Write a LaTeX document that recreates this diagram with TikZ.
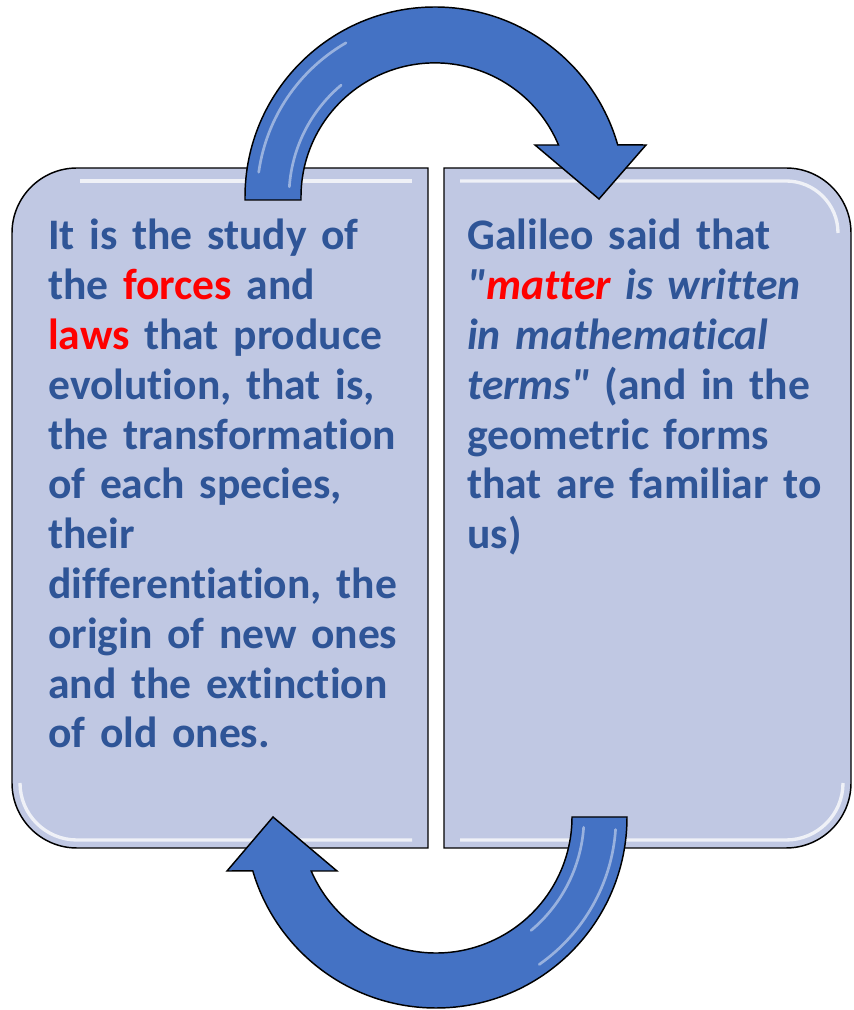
\documentclass[tikz,border=0pt]{standalone}
\usepackage{fontspec}
\setmainfont{Carlito}[Ligatures={NoCommon,NoContextual}]
\usetikzlibrary{positioning}
\definecolor{boxfill}{RGB}{192,200,227}
\definecolor{arrowblue}{RGB}{68,114,196}
\definecolor{textblue}{RGB}{47,85,151}
\definecolor{hired}{RGB}{255,0,0}
\tikzset{panel/.style={fill=boxfill,draw=black,line width=1.1pt},
bendarrow/.style={fill=arrowblue,draw=black,line width=1.1pt,line join=miter},
paneltext/.style={anchor=base west,text width=300pt,align=left,inner sep=0pt,font=\fontsize{32.7}{37.35}\selectfont\bfseries,text=textblue},
sheen/.style={draw=white,opacity=.75,line width=2.5pt},
gloss/.style={draw=white,opacity=.45,line width=2pt,line cap=round}}
\newcommand{\hi}[1]{\textcolor{hired}{#1}}
\begin{document}
\begin{tikzpicture}[x=0.75pt,y=0.75pt]
\useasboundingbox (0,0) rectangle (853,1010);
\draw[panel] (428,162) -- (428,842) -- (77,842) arc[start angle=90,end angle=180,radius=65] -- (12,227) arc[start angle=180,end angle=270,radius=65] -- cycle;
\draw[panel] (444,162) -- (444,842) -- (786,842) arc[start angle=90,end angle=0,radius=65] -- (851,227) arc[start angle=0,end angle=-90,radius=65] -- cycle;
\draw[sheen] (80,829) -- (412,829);
\draw[sheen] (20,227) arc[start angle=180,end angle=270,radius=57] -- (412,170);
\draw[sheen] (460,829) -- (786,829) arc[start angle=90,end angle=0,radius=52];
\draw[sheen] (460,170) -- (786,170) arc[start angle=-90,end angle=0,radius=57];
\node[paneltext] (study) at (48,760) {It is the study of\\the \hi{forces} and\\\hi{laws} that produce\\evolution, that is,\\the transformation\\of each species,\\their\\differentiation, the\\origin of new ones\\and the extinction\\of old ones.};
\node[paneltext] (galileo) at (467,760) {Galileo said that\\\textit{\textquotedbl\hi{matter} is written}\\\textit{in mathematical}\\\textit{terms\textquotedbl} (and in the\\geometric forms\\that are familiar to\\us)};
\coordinate (topc) at (435,813);
\coordinate (botc) at (436,193);
\draw[bendarrow] (245,810) -- (245,813) arc[start angle=180,end angle=15.9,radius=190] -- (646,865) -- (599,811) -- (535,865) -- (558.5,865) arc[start angle=22.8,end angle=180,radius=134] -- (301,810) -- cycle;
\draw[gloss] (topc) ++(172:178) arc[start angle=172,end angle=120,radius=178];
\draw[gloss] (topc) ++(176:146) arc[start angle=176,end angle=130,radius=146];
\draw[bendarrow] (627,193) arc[start angle=0,end angle=-163.6,radius=191] -- (227,139) -- (273,193) -- (337,139) -- (311.2,139) arc[start angle=-156.6,end angle=0,radius=136] -- cycle;
\draw[gloss] (botc) ++(-4:180) arc[start angle=-4,end angle=-55,radius=180];
\draw[gloss] (botc) ++(-4:148) arc[start angle=-4,end angle=-50,radius=148];
\end{tikzpicture}
\end{document}
